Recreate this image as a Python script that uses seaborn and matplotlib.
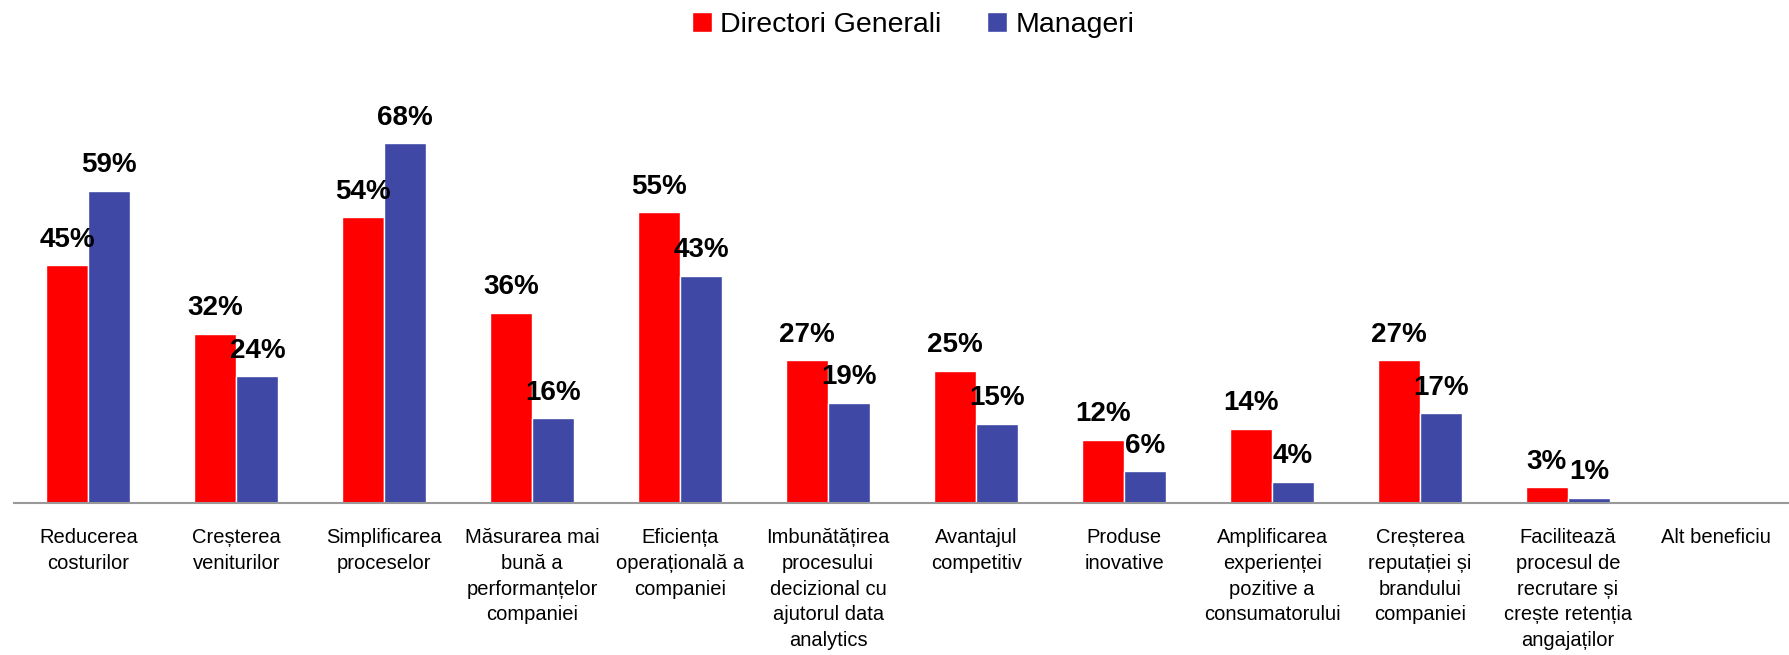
import numpy as np
import pandas as pd
import matplotlib
matplotlib.use('Agg')
import matplotlib.pyplot as plt
import seaborn as sns

categories = [
    'Reducerea\ncosturilor',
    'Creșterea\nveniturilor',
    'Simplificarea\nproceselor',
    'Măsurarea mai\nbună a\nperformanțelor\ncompaniei',
    'Eficiența\noperațională a\ncompaniei',
    'Imbunătățirea\nprocesului\ndecizional cu\najutorul data\nanalytics',
    'Avantajul\ncompetitiv',
    'Produse\ninovative',
    'Amplificarea\nexperienței\npozitive a\nconsumatorului',
    'Creșterea\nreputației și\nbrandului\ncompaniei',
    'Facilitează\nprocesul de\nrecrutare și\ncrește retenția\nangajaților',
    'Alt beneficiu',
]
series_names = ['Directori Generali', 'Manageri']
directori = [45, 32, 54, 36, 55, 27, 25, 12, 14, 27, 3, 0]
manageri = [59, 24, 68, 16, 43, 19, 15, 6, 4, 17, 1, 0]
colors = ['#FF0000', '#3F48A5']

df = pd.DataFrame({
    'categorie': categories * 2,
    'grup': [series_names[0]] * len(categories) + [series_names[1]] * len(categories),
    'valoare': directori + manageri,
})

sns.set_style('white')
plt.rcParams['font.family'] = ['Liberation Sans', 'DejaVu Sans']
plt.rcParams['text.color'] = 'black'
plt.rcParams['xtick.color'] = 'black'

fig = plt.figure(figsize=(17.9, 6.55), dpi=100)
ax = fig.add_axes([0.008, 0.232, 0.992, 0.646])
sns.barplot(data=df, x='categorie', y='valoare', hue='grup', palette=colors,
            width=0.57, saturation=1, ax=ax, legend=True)

# no narrow font here, so sizes are a bit smaller to keep the widths
for container in ax.containers:
    labels = [f'{v:.0f}%' if v > 0 else '' for v in container.datavalues]
    ax.bar_label(container, labels=labels, padding=9, fontsize=20,
                 fontweight='bold', color='black')

ax.set_ylim(0, 80)
ax.set_xlim(-0.5, len(categories) - 0.5)
ax.set_yticks([])
ax.set_xlabel('')
ax.set_ylabel('')
for side in ['top', 'right', 'left']:
    ax.spines[side].set_visible(False)
ax.spines['bottom'].set_color('#999999')
ax.spines['bottom'].set_linewidth(1.5)

ax.set_xticks(np.arange(len(categories)))
ax.set_xticklabels(categories, fontsize=14.5, linespacing=1.45, va='top', color='black')
ax.tick_params(axis='x', which='major', length=0, pad=18)
ax.set_xticks(np.arange(len(categories) + 1) - 0.5, minor=True)
ax.tick_params(axis='x', which='minor', length=8, width=1.5, color='#999999', direction='out')

leg = ax.legend(loc='center', bbox_to_anchor=(0.51, 0.962), bbox_transform=fig.transFigure,
                ncol=2, frameon=False, fontsize=20.5, handlelength=0.7, handleheight=0.7,
                handletextpad=0.3, columnspacing=1.6)
for t in leg.get_texts():
    t.set_color('black')

fig.savefig('out.png', dpi=100)
